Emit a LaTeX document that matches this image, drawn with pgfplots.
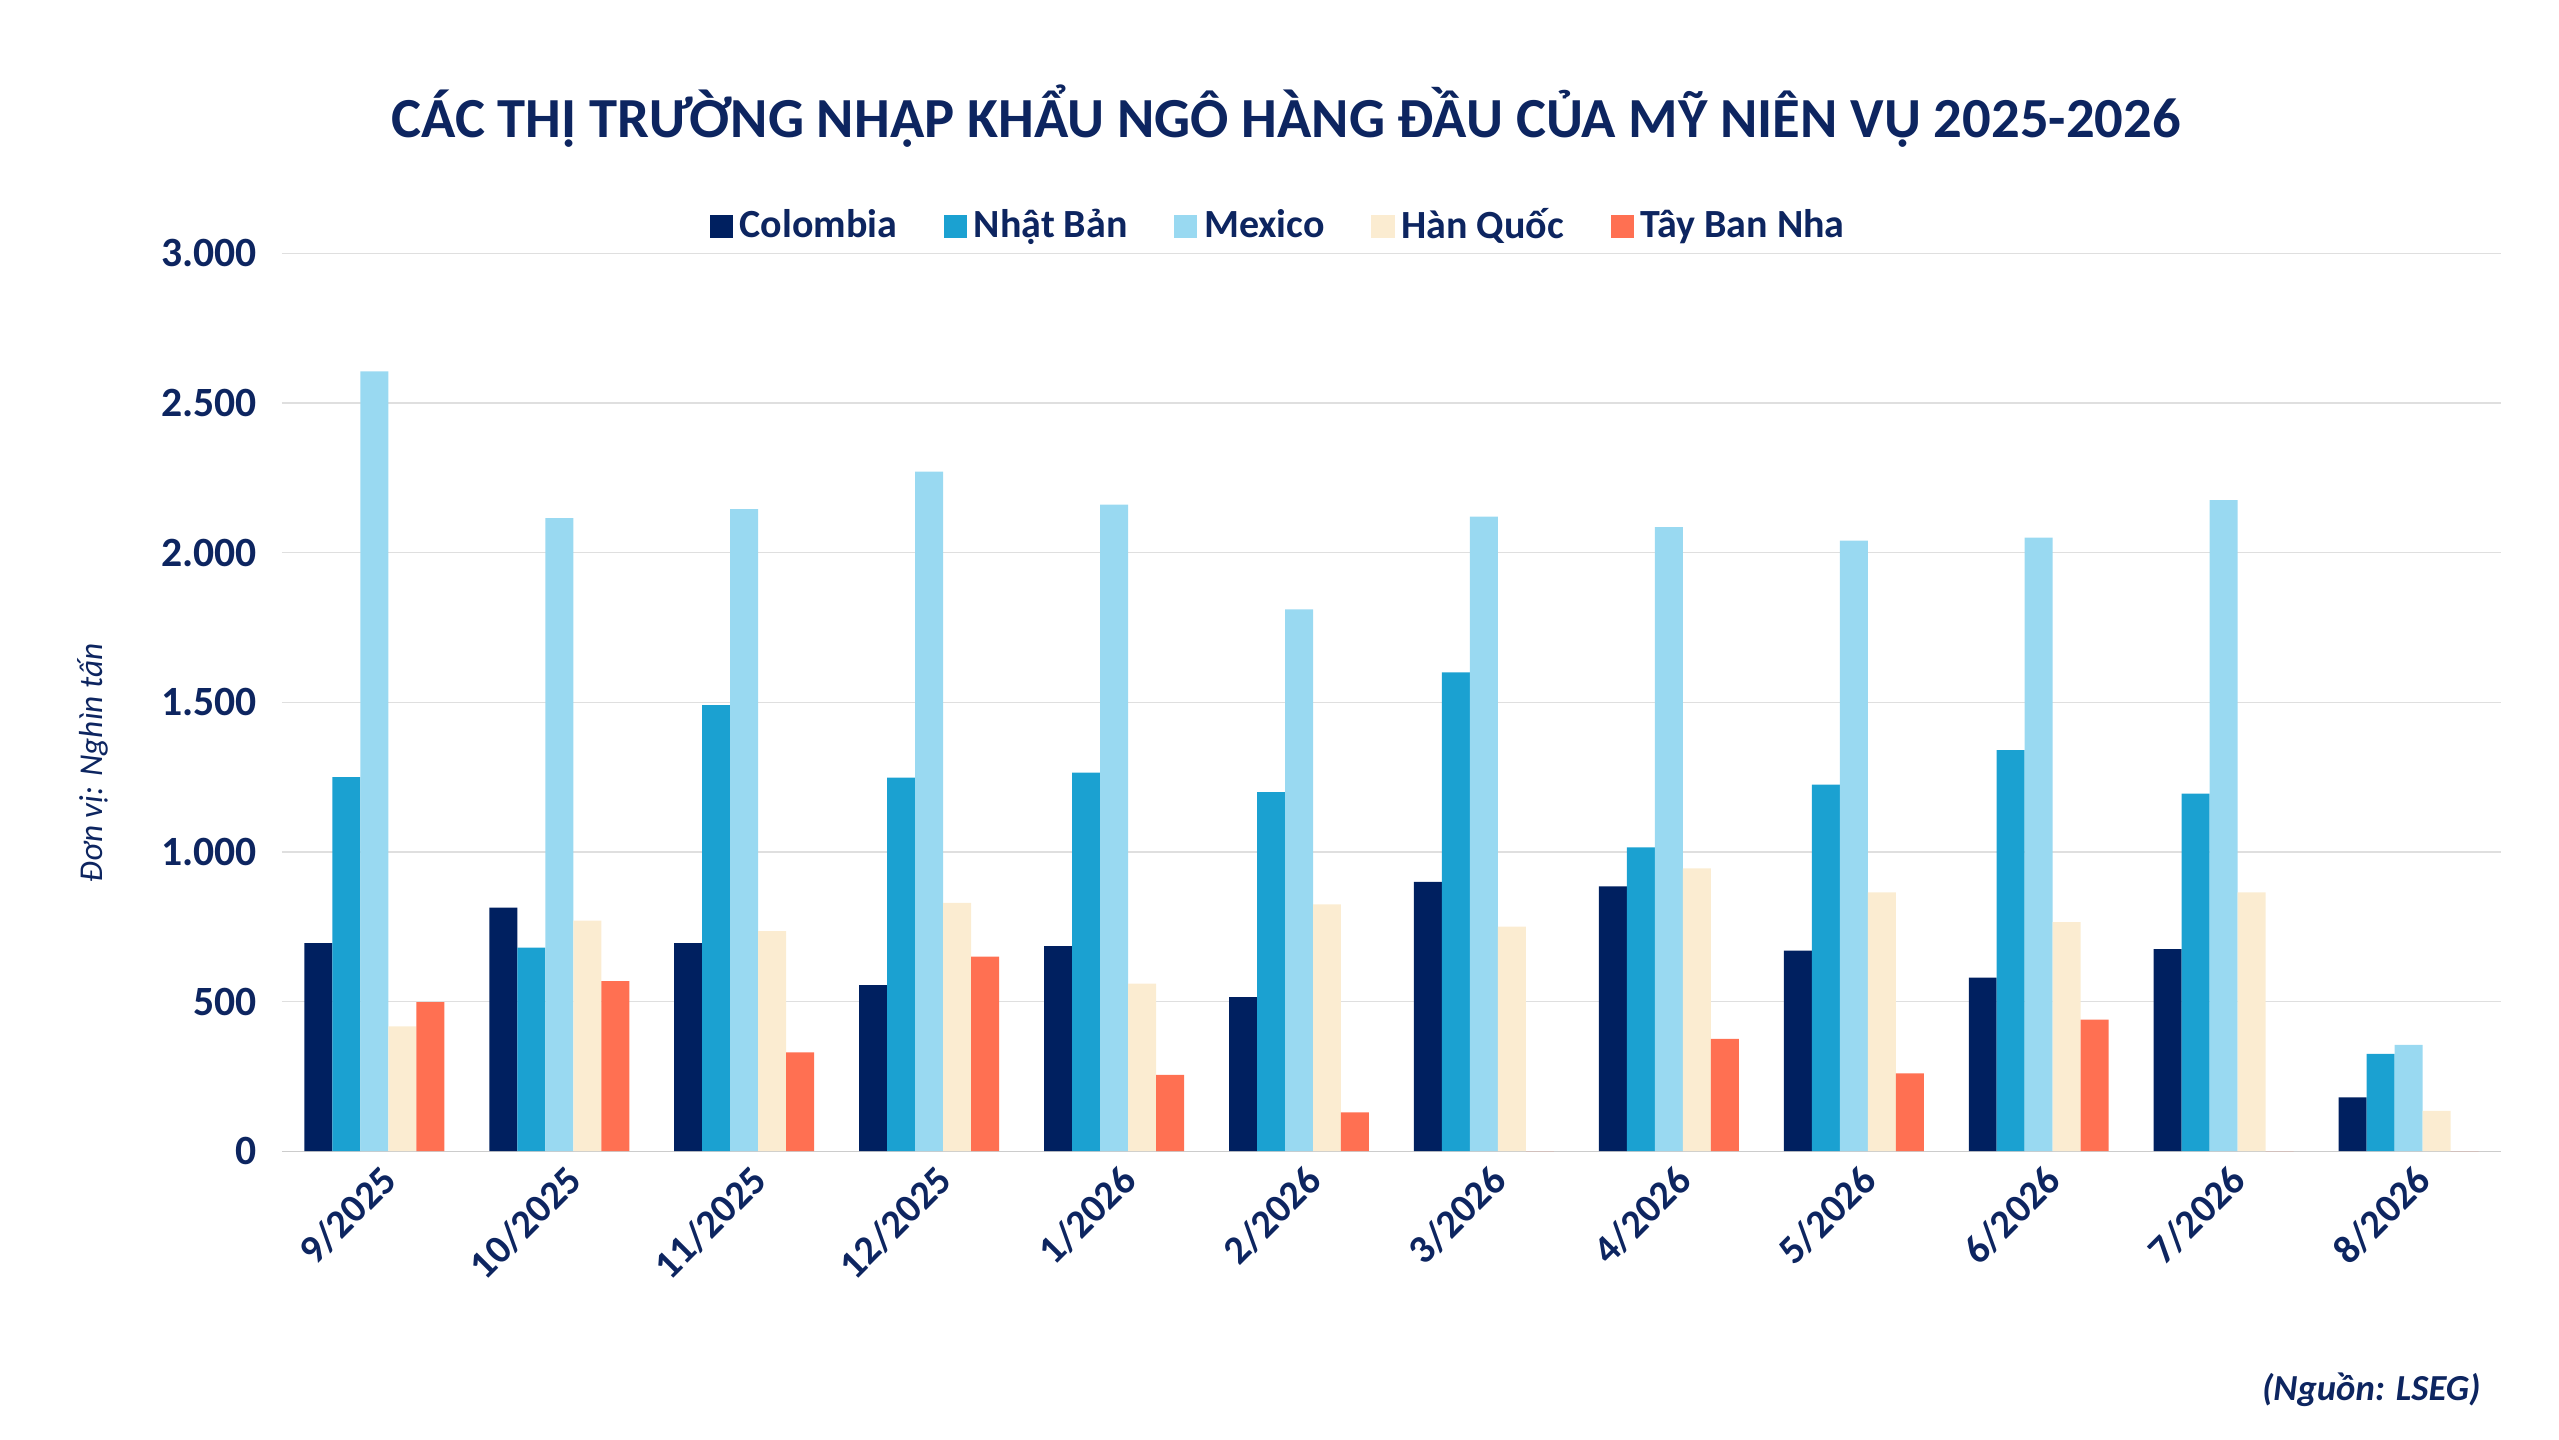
\documentclass[border=0pt]{standalone}
\usepackage{pgfplots}
\pgfplotsset{compat=1.18}
\usepackage{fontspec}
\setmainfont{Carlito}
\definecolor{navy}{HTML}{0D2560}
\definecolor{cA}{HTML}{002060}
\definecolor{cB}{HTML}{1BA1D1}
\definecolor{cC}{HTML}{99D9F1}
\definecolor{cD}{HTML}{FBECD1}
\definecolor{cE}{HTML}{FF7052}
\begin{document}
\begin{tikzpicture}
\path (0,0) rectangle (768pt,432pt);
\node[font=\bfseries\fontsize{17}{20}\selectfont, text=navy] at (386pt,397pt) {CÁC THỊ TRƯỜNG NHẬP KHẨU NGÔ HÀNG ĐẦU CỦA MỸ NIÊN VỤ 2025-2026};
\node[font=\bfseries\itshape\fontsize{11}{13}\selectfont, text=navy, anchor=east] at (748pt,15pt) {(Nguồn: LSEG)};
\node[font=\itshape\fontsize{10}{12}\selectfont, text=navy, rotate=90] at (28pt,203pt) {Đơn vị: Nghìn tấn};
\begin{axis}[at={(84.6pt,86.5pt)}, anchor=south west, scale only axis,
 width=666pt, height=269.5pt,
 ybar=0pt, bar width=8.4pt,
 xmin=-0.5, xmax=11.5, ymin=0, ymax=3000,
 xtick=data,
 xticklabels={9/2025,10/2025,11/2025,12/2025,1/2026,2/2026,3/2026,4/2026,5/2026,6/2026,7/2026,8/2026},
 x tick label style={rotate=45, anchor=north east, font=\bfseries\fontsize{12}{14}\selectfont, text=navy, xshift=2pt},
 ytick={0,500,...,3000},
 y tick label style={font=\bfseries\fontsize{12.5}{14}\selectfont, text=navy, xshift=-4pt},
 /pgf/number format/assume math mode=true,
 /pgf/number format/1000 sep={.},
 ymajorgrids, grid style={gray!25},
 axis line style={draw=none}, major tick length=0pt,
 extra y ticks={0}, extra y tick labels={}, extra y tick style={grid style={gray!40}},
 legend style={at={(0.45,1.03)}, anchor=center, draw=none, fill=none, legend columns=5,
   font=\bfseries\fontsize{12}{14}\selectfont, text=navy,
   /tikz/every even column/.append style={column sep=12pt}},
 legend image code/.code={\fill[#1] (0pt,-3.5pt) rectangle (7pt,3.5pt);},
]
\addplot[fill=cA,draw=none] coordinates {(0,695)(1,814)(2,695)(3,555)(4,685)(5,515)(6,900)(7,885)(8,670)(9,580)(10,675)(11,180)};
\addplot[fill=cB,draw=none] coordinates {(0,1250)(1,680)(2,1490)(3,1248)(4,1265)(5,1200)(6,1600)(7,1015)(8,1225)(9,1340)(10,1195)(11,325)};
\addplot[fill=cC,draw=none] coordinates {(0,2605)(1,2115)(2,2145)(3,2270)(4,2160)(5,1810)(6,2120)(7,2085)(8,2040)(9,2050)(10,2175)(11,355)};
\addplot[fill=cD,draw=none] coordinates {(0,417)(1,770)(2,735)(3,830)(4,560)(5,825)(6,750)(7,945)(8,865)(9,765)(10,865)(11,135)};
\addplot[fill=cE,draw=none] coordinates {(0,498)(1,568)(2,330)(3,650)(4,255)(5,130)(6,0)(7,375)(8,260)(9,440)(10,0)(11,0)};
\legend{Colombia,Nhật Bản,Mexico,Hàn Quốc,Tây Ban Nha}
\end{axis}
\end{tikzpicture}
\end{document}
